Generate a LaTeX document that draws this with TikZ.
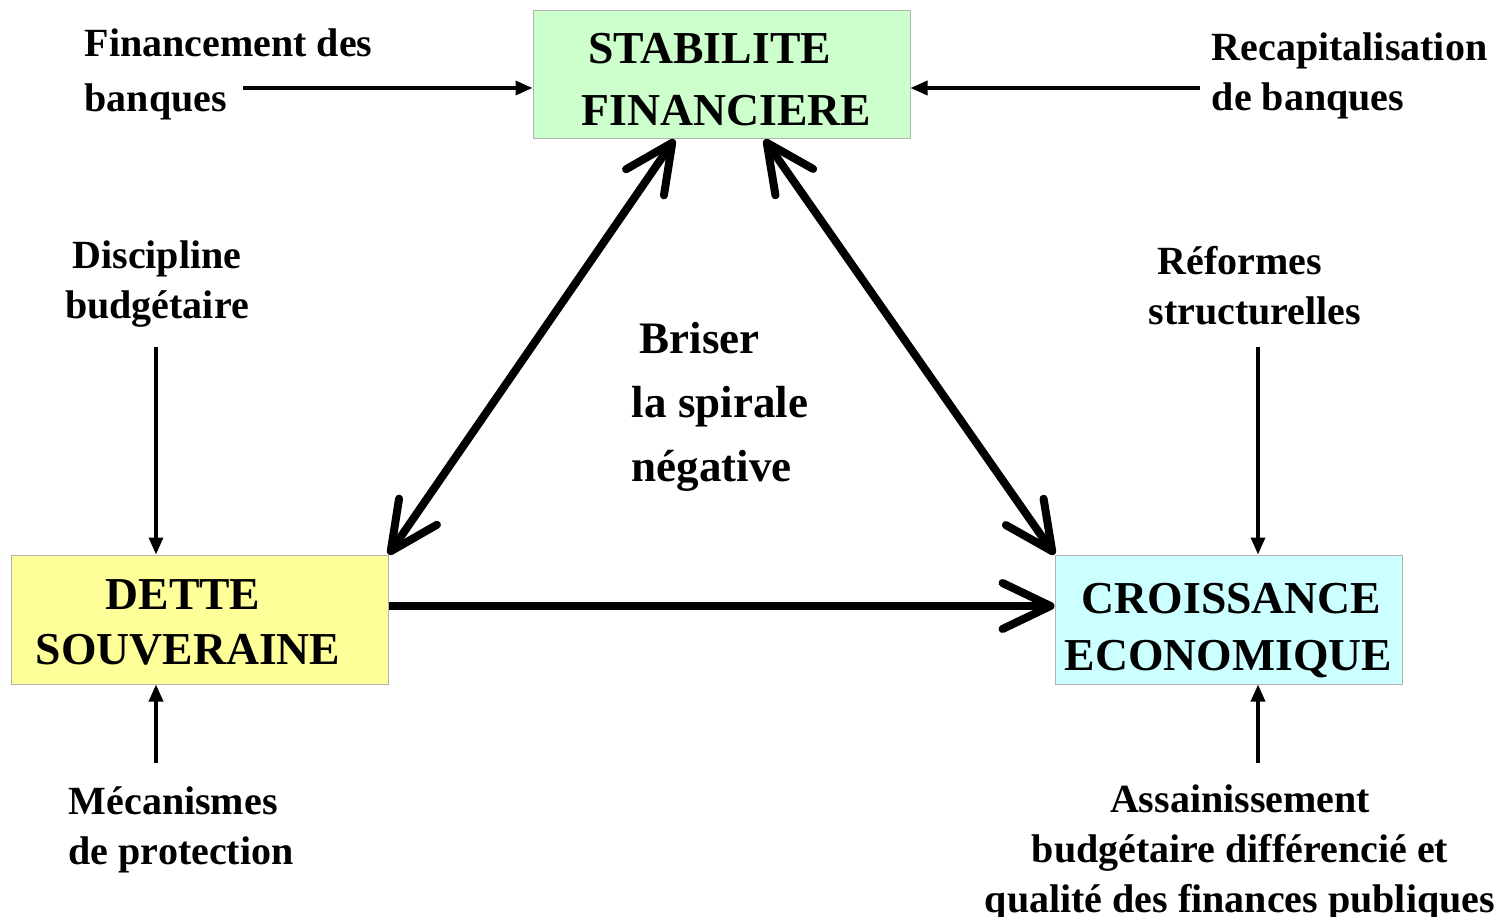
\documentclass[tikz,border=0pt]{standalone}
\usepackage{fontspec}
\setmainfont{Liberation Serif}
\usetikzlibrary{arrows.meta}

\definecolor{vert}{RGB}{204,255,204}
\definecolor{jaune}{RGB}{255,255,153}
\definecolor{cyan2}{RGB}{204,255,255}

\begin{document}
\begin{tikzpicture}[x=1pt,y=-1pt,->,>={Triangle[length=17pt,width=14pt]},line width=3.5pt,
	box/.style={draw=gray!60,line width=1pt,inner sep=0pt},
	boxtxt/.style={align=center,inner sep=0pt,font=\fontsize{45.7}{57}\selectfont\bfseries},
	lbl/.style={inner sep=0pt,font=\fontsize{40}{50}\selectfont\bfseries},
	big/.style={line width=8pt,>={Straight Barb[length=48pt,width=46pt,round]}}]

	\useasboundingbox (0,0) rectangle (1506,917);

	% les trois poles
	\node[box,fill=vert,minimum width=377pt,minimum height=128pt]  (stab) at (721.5,75)   {};
	\node[box,fill=jaune,minimum width=377pt,minimum height=129pt] (dette) at (199.5,619.5) {};
	\node[box,fill=cyan2,minimum width=347pt,minimum height=129pt] (croi) at (1228.5,619.5) {};

	\node[boxtxt,font=\fontsize{45.7}{62}\selectfont\bfseries] (stab-txt) at ([yshift=-5pt]stab.center)
		{\hspace*{-24pt}STABILITE\\\hspace*{10pt}FINANCIERE};
	\node[boxtxt,font=\fontsize{45.7}{55}\selectfont\bfseries] (dette-txt) at ([yshift=-3pt]dette.center)
		{\hspace*{-33pt}DETTE\\\hspace*{-23pt}SOUVERAINE};
	\node[boxtxt] (croi-txt) at ([yshift=-11pt]croi.center) {\hspace*{6pt}CROISSANCE\\ECONOMIQUE};

	% les leviers
	\node[lbl,align=left,anchor=west]  (fin)   at (83,74)    {Financement des\\[5pt]banques};
	\node[lbl,align=left,anchor=west]  (recap) at (1210,76)  {Recapitalisation\\de banques};
	\node[lbl,align=center]            (disc)  at (157,284)  {Discipline\\budg\'etaire};
	\node[lbl,align=center]            (ref)   at (1255,286) {\hspace*{-30pt}R\'eformes\\structurelles};
	\node[lbl,align=left,anchor=west]  (meca)  at (67,830)   {M\'ecanismes\\de protection};
	\node[lbl,align=center]            (assa)  at (1240,853) {Assainissement\\budg\'etaire diff\'erenci\'e et\\qualit\'e des finances publiques};
	\node[lbl,align=left,anchor=west,font=\fontsize{45}{64}\selectfont\bfseries]
	                                   (bris)  at (630,407)  {\hspace*{8pt}Briser\\la spirale\\n\'egative};

	\coordinate (fin-out)  at (243,88);
	\coordinate (rec-out)  at (1200,88);
	\coordinate (disc-out) at (156,347);
	\coordinate (meca-out) at (156,763);
	\coordinate (ref-out)  at (1258,347);
	\coordinate (assa-out) at (1258,763);

	\path (fin-out)  edge (fin-out -| stab.west)
	      (rec-out)  edge (rec-out -| stab.east)
	      (disc-out) edge (disc-out |- dette.north)
	      (meca-out) edge (meca-out |- dette.south)
	      (ref-out)  edge (ref-out |- croi.north)
	      (assa-out) edge (assa-out |- croi.south);

	% la spirale
	\path[big] ([xshift=142pt]stab.south west) edge[<->] (dette.north east)
	           ([xshift=232pt]stab.south west) edge[<->] (croi.north west)
	           ([yshift=13.5pt]dette.east)     edge      ([yshift=13.5pt]croi.west);

\end{tikzpicture}
\end{document}
